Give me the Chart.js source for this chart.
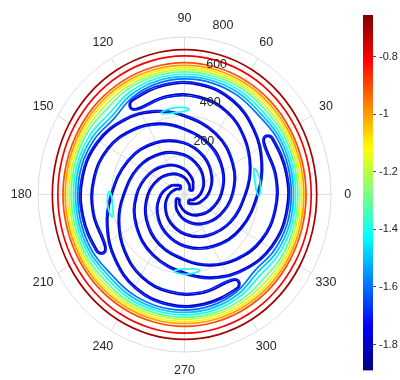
<!DOCTYPE html>
<html>
<head>
<meta charset="utf-8">
<script src="https://cdn.jsdelivr.net/npm/chart.js@4.4.1/dist/chart.umd.min.js"></script>
<style>
  html, body { margin: 0; padding: 0; background: #fff; }
  #wrap { position: relative; width: 400px; height: 380px; overflow: hidden; }
  #polar { position: absolute; left: 0; top: 0; }
  #cbar { position: absolute; left: 350px; top: 0; }
</style>
</head>
<body>
<div id="wrap">
  <canvas id="polar" width="400" height="380"></canvas>
  <canvas id="cbar" width="50" height="380"></canvas>
</div>
<script>
// polar axes
const angleTicks = [0, 30, 60, 90, 120, 150, 180, 210, 240, 270, 300, 330];
const radialTicks = [200, 400, 600, 800];
const rLabelAngle = 80;

// colour scale (jet)
const colorMin = -1.89;
const colorMax = -0.655;
const colorTicks = [-1.8, -1.6, -1.4, -1.2, -1, -0.8];

// outer rings: radius every 15 degrees for each contour level
const ringAngles = [0, 15, 30, 45, 60, 75, 90, 105, 120, 135, 150, 165,
                    180, 195, 210, 225, 240, 255, 270, 285, 300, 315, 330, 345];
const ringLevels = [-0.7, -0.8, -0.9, -1.0, -1.1, -1.2, -1.3, -1.4, -1.5, -1.6];
const ringRadii = [
  [722, 723, 726, 730, 733, 735, 736, 735, 733, 730, 726, 723, 722, 723, 726, 730, 733, 735, 736, 735, 733, 730, 726, 723],
  [692, 693, 695, 698, 701, 703, 704, 703, 701, 698, 695, 693, 692, 693, 695, 698, 701, 703, 704, 703, 701, 698, 695, 693],
  [664, 664, 665, 667, 668, 669, 670, 669, 668, 667, 665, 664, 664, 664, 665, 667, 668, 669, 670, 669, 668, 667, 665, 664],
  [652, 652, 653, 654, 655, 656, 656, 656, 655, 654, 653, 652, 652, 652, 653, 654, 655, 656, 656, 656, 655, 654, 653, 652],
  [641, 641, 642, 643, 644, 645, 645, 645, 644, 642, 642, 641, 641, 641, 642, 643, 644, 645, 645, 645, 644, 642, 642, 641],
  [630, 630, 631, 630, 633, 633, 634, 633, 631, 626, 630, 630, 630, 630, 631, 630, 633, 633, 634, 633, 631, 626, 630, 630],
  [619, 619, 620, 616, 622, 622, 623, 622, 618, 608, 617, 619, 619, 619, 620, 616, 622, 622, 623, 622, 618, 608, 617, 619],
  [607, 607, 606, 600, 608, 610, 611, 609, 600, 582, 598, 606, 607, 607, 606, 600, 608, 610, 611, 609, 600, 582, 598, 606],
  [595, 595, 593, 585, 594, 598, 599, 596, 585, 562, 582, 593, 595, 595, 593, 585, 594, 598, 599, 596, 585, 562, 582, 593],
  [583, 583, 580, 570, 580, 586, 587, 583, 570, 545, 566, 580, 583, 583, 580, 570, 580, 586, 587, 583, 570, 545, 566, 580]
];

// spiral arms: one arm traced from its inner end out to its tip,
// repeated at each tip angle
const armTips = [31, 121, 211, 301];
const armOffset = [-350, -330, -300, -270, -240, -210, -180, -150, -120, -100, -80, -60, -40, -20, 0];
const armMid = [50, 72, 108, 148, 190, 232, 275, 320, 368, 418, 468, 512, 533, 537, 532];
const armHalf = [8, 13, 18, 22, 25, 27, 28, 29, 30, 30, 30, 29, 28, 26, 22];
const armLevels = [-1.8, -1.7];
const armPad = [0, 8];

// small closed contours between the arms
const blobTheta = [9, 97, 187, 272];
const blobR = [404, 432, 410, 392];
const blobSpan = [10, 10, 9, 10];
const blobWidth = [14, 13, 14, 13];
const blobLevel = -1.4;

function jet(v) {
  const t = (v - colorMin) / (colorMax - colorMin);
  const c = (x) => Math.round(255 * Math.max(0, Math.min(1, x)));
  const r = c(Math.min(4 * t - 1.5, -4 * t + 4.5));
  const g = c(Math.min(4 * t - 0.5, -4 * t + 3.5));
  const b = c(Math.min(4 * t + 0.5, -4 * t + 2.5));
  return `rgb(${r},${g},${b})`;
}

const rad = (d) => (d * Math.PI) / 180;
const toXY = (deg, r) => ({ x: r * Math.cos(rad(deg)), y: r * Math.sin(rad(deg)) });

// closed curve: pad both ends so every edge gets a proper spline tangent,
// the two padding segments are hidden via segment styling
function closedLoop(pts) {
  const n = pts.length;
  return [pts[n - 1], ...pts, pts[0], pts[1]];
}

function contourSet(pts, level) {
  const data = closedLoop(pts);
  const last = data.length - 2;
  return {
    data,
    showLine: true,
    borderColor: jet(level),
    borderWidth: 1.7,
    pointRadius: 0,
    tension: 0.4,
    segment: {
      borderColor: (ctx) =>
        ctx.p0DataIndex === 0 || ctx.p0DataIndex === last ? "rgba(0,0,0,0)" : undefined,
    },
  };
}

const datasets = [];

ringLevels.forEach((lvl, i) => {
  const pts = ringAngles.map((a, k) => toXY(a, ringRadii[i][k]));
  datasets.push(contourSet(pts, lvl));
});

blobTheta.forEach((th, i) => {
  const s = blobSpan[i], w = blobWidth[i], r = blobR[i];
  const pts = [
    toXY(th - s, r), toXY(th - s * 0.7, r - w * 0.7), toXY(th, r - w),
    toXY(th + s * 0.7, r - w * 0.7), toXY(th + s, r), toXY(th + s * 0.7, r + w * 0.7),
    toXY(th, r + w), toXY(th - s * 0.7, r + w * 0.7),
  ];
  datasets.push(contourSet(pts, blobLevel));
});

armLevels.forEach((lvl, j) => {
  armTips.forEach((tip) => {
    const n = armOffset.length;
    const pts = [];
    for (let i = 0; i < n; i++) {
      pts.push(toXY(tip + armOffset[i], armMid[i] + armHalf[i] + armPad[j]));
    }
    const capOut = ((armHalf[n - 1] + armPad[j]) / armMid[n - 1]) * (180 / Math.PI);
    pts.push(toXY(tip + capOut, armMid[n - 1]));
    for (let i = n - 1; i >= 0; i--) {
      pts.push(toXY(tip + armOffset[i], Math.max(8, armMid[i] - armHalf[i] - armPad[j])));
    }
    const capIn = ((armHalf[0] + armPad[j]) / armMid[0]) * (180 / Math.PI);
    pts.push(toXY(tip + armOffset[0] - capIn, armMid[0]));
    datasets.push(contourSet(pts, lvl));
  });
});

const labelFont = '12.5px "Liberation Sans", Arial, sans-serif';

const polarGrid = {
  id: "polarGrid",
  beforeDatasetsDraw(chart) {
    const { ctx, scales } = chart;
    const cx = scales.x.getPixelForValue(0);
    const cy = scales.y.getPixelForValue(0);
    ctx.save();
    ctx.strokeStyle = "#dcdcdc";
    ctx.lineWidth = 1;
    radialTicks.forEach((r) => {
      const rx = scales.x.getPixelForValue(r) - cx;
      const ry = cy - scales.y.getPixelForValue(r);
      ctx.beginPath();
      ctx.ellipse(cx, cy, rx, ry, 0, 0, Math.PI * 2);
      ctx.stroke();
    });
    const rOut = radialTicks[radialTicks.length - 1];
    angleTicks.forEach((a) => {
      const p = toXY(a, rOut);
      ctx.beginPath();
      ctx.moveTo(cx, cy);
      ctx.lineTo(scales.x.getPixelForValue(p.x), scales.y.getPixelForValue(p.y));
      ctx.stroke();
    });
    ctx.restore();
  },
  afterDatasetsDraw(chart) {
    const { ctx, scales } = chart;
    ctx.save();
    ctx.font = labelFont;
    ctx.fillStyle = "#262626";
    ctx.textAlign = "center";
    ctx.textBaseline = "middle";
    angleTicks.forEach((a) => {
      const p = toXY(a, 892);
      ctx.fillText(String(a), scales.x.getPixelForValue(p.x), scales.y.getPixelForValue(p.y));
    });
    radialTicks.forEach((r) => {
      const p = toXY(rLabelAngle, r);
      ctx.fillText(String(r), scales.x.getPixelForValue(p.x) + 13, scales.y.getPixelForValue(p.y) - 14);
    });
    ctx.restore();
  },
};

new Chart(document.getElementById("polar"), {
  type: "scatter",
  data: { datasets },
  options: {
    responsive: false,
    animation: false,
    events: [],
    layout: { padding: 0 },
    plugins: { legend: { display: false }, tooltip: { enabled: false } },
    scales: {
      x: { type: "linear", min: -1008, max: 1177, display: false },
      y: { type: "linear", min: -942, max: 988, display: false },
    },
  },
  plugins: [polarGrid],
});

// colour bar
const jetStops = [
  [0, "#000080"], [0.125, "#0000ff"], [0.375, "#00ffff"],
  [0.625, "#ffff00"], [0.875, "#ff0000"], [1, "#800000"],
];

new Chart(document.getElementById("cbar"), {
  type: "bar",
  data: {
    labels: [""],
    datasets: [{
      data: [[colorMin, colorMax]],
      barPercentage: 1,
      categoryPercentage: 1,
      borderWidth: 0,
      backgroundColor: (c) => {
        const chart = c.chart;
        if (!chart.chartArea) return "#fff";
        const y = chart.scales.y;
        const g = chart.ctx.createLinearGradient(0, y.getPixelForValue(colorMin), 0, y.getPixelForValue(colorMax));
        jetStops.forEach(([t, col]) => g.addColorStop(t, col));
        return g;
      },
    }],
  },
  options: {
    responsive: false,
    animation: false,
    events: [],
    layout: { padding: { top: 15, bottom: 7, left: 13 } },
    plugins: { legend: { display: false }, tooltip: { enabled: false } },
    scales: {
      x: { display: false },
      y: {
        position: "right",
        min: colorMin,
        max: colorMax,
        border: { display: false },
        grid: { drawOnChartArea: false, tickLength: 3, color: "#555" },
        ticks: {
          padding: 3,
          color: "#262626",
          font: { family: '"Liberation Sans", Arial, sans-serif', size: 11 },
          callback: (v) => String(Math.round(v * 10) / 10),
        },
        afterBuildTicks: (s) => { s.ticks = colorTicks.map((v) => ({ value: v })); },
        afterFit: (s) => { s.width = 27; },
      },
    },
  },
});
</script>
</body>
</html>
